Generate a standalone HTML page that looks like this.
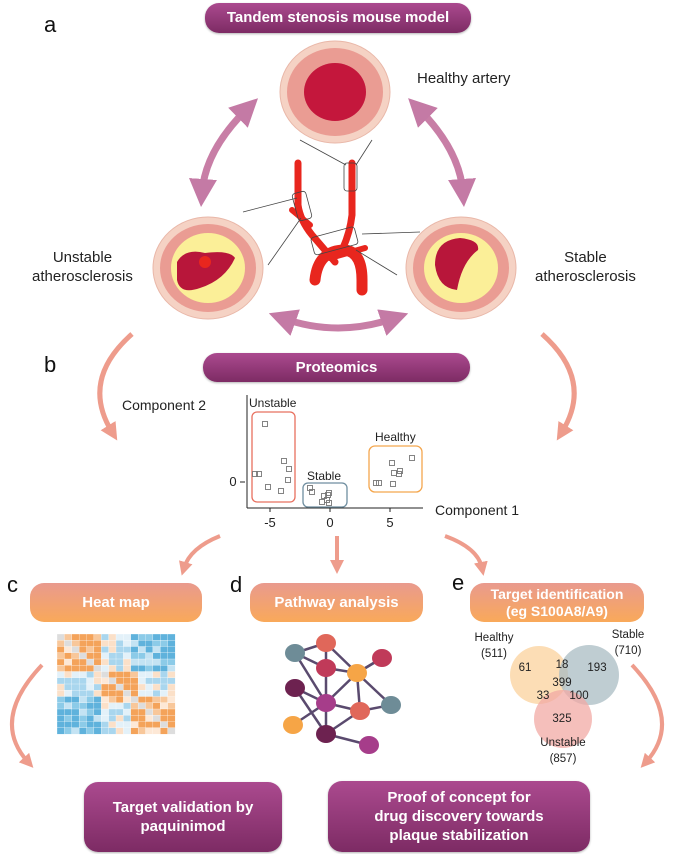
<!DOCTYPE html>
<html><head><meta charset="utf-8"><style>
html,body{margin:0;padding:0;background:#fff}
body{width:674px;height:854px;position:relative;overflow:hidden;font-family:"Liberation Sans","DejaVu Sans",sans-serif}
.pill{position:absolute;color:#fff;font-weight:bold;display:flex;align-items:center;justify-content:center;text-align:center;line-height:1.2}
.pu{background:linear-gradient(#ab4a8f,#7d2b64);border-radius:14px;box-shadow:0 1px 2px rgba(0,0,0,.3)}
.or{background:linear-gradient(#e99a8e,#f9a95a);border-radius:14px;font-size:15px}
.t{position:absolute;color:#222;white-space:nowrap}
.lbl{position:absolute;font-size:22px;color:#111}
</style></head><body>
<svg width="674" height="854" style="position:absolute;left:0;top:0">
<defs>
<marker id="ah" markerWidth="4" markerHeight="4" refX="2" refY="2" orient="auto"><path d="M0,0 L4,2 L0,4z" fill="#c47aa5"/></marker>
<marker id="as" markerWidth="4" markerHeight="4" refX="2" refY="2" orient="auto-start-reverse"><path d="M0,0 L4,2 L0,4z" fill="#c47aa5"/></marker>
<marker id="sa" markerWidth="3.5" markerHeight="3.5" refX="1.5" refY="1.75" orient="auto"><path d="M0,0 L3.5,1.75 L0,3.5z" fill="#ee9c8c"/></marker>
</defs>
<!-- double arrows -->
<path d="M248,108 Q205,150 202,193" stroke="#c87ea6" stroke-width="7" fill="none" marker-start="url(#as)" marker-end="url(#ah)"/>
<path d="M418,108 Q460,150 463,193" stroke="#c87ea6" stroke-width="7" fill="none" marker-start="url(#as)" marker-end="url(#ah)"/>
<path d="M282,318 Q338,338 395,318" stroke="#c87ea6" stroke-width="7" fill="none" marker-start="url(#as)" marker-end="url(#ah)"/>
<!-- salmon curved arrows -->
<path d="M132,334 Q80,380 112,432" stroke="#ee9c8c" stroke-width="5" fill="none" marker-end="url(#sa)"/>
<path d="M542,334 Q594,380 562,432" stroke="#ee9c8c" stroke-width="5" fill="none" marker-end="url(#sa)"/>
<path d="M220,536 Q190,548 184,568" stroke="#ee9c8c" stroke-width="4" fill="none" marker-end="url(#sa)"/>
<path d="M337,536 L337,566" stroke="#ee9c8c" stroke-width="4" fill="none" marker-end="url(#sa)"/>
<path d="M445,536 Q478,548 482,568" stroke="#ee9c8c" stroke-width="4" fill="none" marker-end="url(#sa)"/>
<path d="M42,665 Q-10,720 28,762" stroke="#ee9c8c" stroke-width="4" fill="none" marker-end="url(#sa)"/>
<path d="M632,665 Q684,720 646,762" stroke="#ee9c8c" stroke-width="4" fill="none" marker-end="url(#sa)"/>
<!-- aorta -->
<g stroke="#e8261e" fill="none" stroke-linecap="round">
<path d="M298,163 L298,205 Q300,220 312,235 Q325,250 335,262" stroke-width="7"/>
<path d="M352,163 L352,215 Q350,232 343,248" stroke-width="7"/>
<path d="M292,210 L310,225" stroke-width="6"/>
<path d="M330,258 L365,248" stroke-width="6"/>
<path d="M315,280 Q318,250 345,250 Q362,252 362,280 L362,290" stroke-width="11"/>
</g>
<g stroke="#444" stroke-width="0.8" fill="none">
<line x1="300" y1="140" x2="346" y2="165"/><line x1="372" y1="140" x2="356" y2="165"/>
<rect x="344" y="163" width="13" height="28" rx="3"/>
<rect x="295" y="192" width="14" height="28" rx="3" transform="rotate(-15 302 206)"/>
<line x1="243" y1="212" x2="297" y2="198"/><line x1="268" y1="265" x2="301" y2="218"/>
<rect x="312" y="232" width="45" height="18" rx="3" transform="rotate(-15 334 241)"/>
<line x1="362" y1="234" x2="420" y2="232"/><line x1="356" y1="250" x2="397" y2="275"/>
</g>
<!-- artery circles -->
<g>
<ellipse cx="335" cy="92" rx="55" ry="51" fill="#f5d2c4" stroke="#e9b7a8"/>
<ellipse cx="335" cy="92" rx="48" ry="44" fill="#ea9c93"/>
<ellipse cx="335" cy="92" rx="31" ry="29" fill="#c4173c"/>
<ellipse cx="208" cy="268" rx="55" ry="51" fill="#f5d2c4" stroke="#e9b7a8"/>
<ellipse cx="208" cy="268" rx="48" ry="44" fill="#ea9c93"/>
<ellipse cx="208" cy="268" rx="37" ry="35" fill="#fbef98"/>
<path d="M177,262 Q185,248 205,253 Q230,250 235,258 Q225,280 200,288 Q180,295 177,280z" fill="#b8163a"/>
<circle cx="205" cy="262" r="6" fill="#e8261e"/>
<ellipse cx="461" cy="268" rx="55" ry="51" fill="#f5d2c4" stroke="#e9b7a8"/>
<ellipse cx="461" cy="268" rx="48" ry="44" fill="#ea9c93"/>
<ellipse cx="461" cy="268" rx="37" ry="35" fill="#fbef98"/>
<path d="M435,265 Q435,240 460,238 Q480,240 478,250 Q462,262 457,290 Q438,288 435,265z" fill="#b8163a"/>
</g>
<!-- scatter -->
<g stroke="#222" stroke-width="1" fill="none">
<line x1="247" y1="395" x2="247" y2="508"/><line x1="247" y1="508" x2="423" y2="508"/>
<line x1="270" y1="508" x2="270" y2="512"/><line x1="330" y1="508" x2="330" y2="512"/><line x1="390" y1="508" x2="390" y2="512"/>
<line x1="240" y1="482" x2="245" y2="482"/>
</g>
<rect x="252" y="412" width="43" height="90" rx="5" fill="none" stroke="#e8705f" stroke-width="1.3"/>
<rect x="303" y="483" width="44" height="24" rx="5" fill="none" stroke="#6f8ea0" stroke-width="1.3"/>
<rect x="369" y="446" width="53" height="46" rx="6" fill="none" stroke="#f4a64d" stroke-width="1.3"/>
<g stroke="#777" fill="none" stroke-width="0.9" id="pts"></g>
<g font-size="13" fill="#222" text-anchor="middle">
<text x="270" y="527">-5</text><text x="330" y="527">0</text><text x="390" y="527">5</text>
<text x="233" y="486">0</text>
</g>
<!-- heatmap -->
<g id="hm"><rect x="57" y="634" width="118" height="100" fill="#bfe0f0"/></g>
<!-- network -->
<g stroke="#5a4a6e" stroke-width="2.5" id="edges"></g>
<g id="nodes"></g>
<!-- venn -->
<g style="mix-blend-mode:multiply">
<circle cx="539" cy="675" r="29" fill="#fbd7a8" opacity="0.85"/>
<circle cx="589" cy="675" r="30" fill="#a9bcc3" opacity="0.75"/>
<circle cx="563" cy="719" r="29" fill="#f2a9a4" opacity="0.75"/>
</g>
<g font-size="11.5" fill="#222" text-anchor="middle">
<text x="525" y="671">61</text><text x="562" y="668">18</text><text x="597" y="671">193</text>
<text x="562" y="686">399</text><text x="543" y="699">33</text><text x="579" y="699">100</text><text x="562" y="722">325</text>
<text x="494" y="641">Healthy</text><text x="494" y="657">(511)</text>
<text x="628" y="638">Stable</text><text x="628" y="654">(710)</text>
<text x="563" y="746">Unstable</text><text x="563" y="762">(857)</text>
</g>
</svg>
<div class="pill pu" style="left:205px;top:3px;width:266px;height:30px;font-size:15px">Tandem stenosis mouse model</div>
<div class="lbl" style="left:44px;top:12px">a</div>
<div class="t" style="left:417px;top:70px;font-size:15px">Healthy artery</div>
<div class="t" style="left:32px;top:248px;font-size:15px;text-align:center;line-height:19px">Unstable<br>atherosclerosis</div>
<div class="t" style="left:535px;top:248px;font-size:15px;text-align:center;line-height:19px">Stable<br>atherosclerosis</div>
<div class="pill pu" style="left:203px;top:353px;width:267px;height:29px;font-size:15px">Proteomics</div>
<div class="lbl" style="left:44px;top:352px">b</div>
<div class="t" style="left:122px;top:397px;font-size:14px">Component 2</div>
<div class="t" style="left:435px;top:502px;font-size:14px">Component 1</div>
<div class="t" style="left:249px;top:396px;font-size:12px">Unstable</div>
<div class="t" style="left:307px;top:469px;font-size:12px">Stable</div>
<div class="t" style="left:375px;top:430px;font-size:12px">Healthy</div>
<div class="lbl" style="left:7px;top:572px">c</div>
<div class="pill or" style="left:30px;top:583px;width:172px;height:39px">Heat map</div>
<div class="lbl" style="left:230px;top:572px">d</div>
<div class="pill or" style="left:250px;top:583px;width:173px;height:39px">Pathway analysis</div>
<div class="lbl" style="left:452px;top:570px">e</div>
<div class="pill or" style="left:470px;top:583px;width:174px;height:39px;font-size:14px;line-height:17px">Target identification<br>(eg S100A8/A9)</div>
<div class="pill pu" style="left:84px;top:782px;width:198px;height:70px;font-size:15px;line-height:19px">Target validation by<br>paquinimod</div>
<div class="pill pu" style="left:328px;top:781px;width:262px;height:71px;font-size:15px;line-height:19px">Proof of concept for<br>drug discovery towards<br>plaque stabilization</div>
<script>
var NS="http://www.w3.org/2000/svg";
function el(p,t,a){var e=document.createElementNS(NS,t);for(var k in a)e.setAttribute(k,a[k]);p.appendChild(e);return e;}
var pts=[[265,424],[284,461],[289,469],[255,474],[259,474],[288,480],[268,487],[281,491],[310,488],[312,492],[324,496],[329,493],[328,495],[327,500],[322,502],[329,503],[412,458],[392,463],[394,473],[400,471],[399,474],[376,483],[379,483],[393,484]];
var g=document.getElementById('pts');pts.forEach(function(p){el(g,'rect',{x:p[0]-2.5,y:p[1]-2.5,width:5,height:5});});
var hm=document.getElementById('hm'),n=16,cw=118/n,ch=100/n;var s=7;
function rnd(){s=(s*9301+49297)%233280;return s/233280;}
for(var i=0;i<n;i++)for(var j=0;j<n;j++){
 var a=(i<6&&j<6)||(i>9&&j>9)||(i>5&&i<11&&j>5&&j<11);var b=(i<6&&j>9)||(i>9&&j<6);
 var r=rnd(),c;
 if(i==j)c='#ddd';else if(a)c=r<.5?'#f4a35a':(r<.8?'#f8c79a':'#fde8d6');else if(b)c=r<.5?'#5fb2dc':(r<.85?'#8ccbe8':'#c4e3f3');else c=r<.4?'#a9d6ee':(r<.7?'#e3f1f9':'#fbe0c8');
 el(hm,'rect',{x:57+j*cw,y:634+i*ch,width:cw+.2,height:ch+.2,fill:c,stroke:'#fff','stroke-width':.3});}
var N=[[295,653,'#6e8c97'],[326,643,'#e0675a'],[382,658,'#c03a59'],[326,668,'#c03a59'],[357,673,'#f6a546'],[295,688,'#6d2250'],[326,703,'#a63d8a'],[360,711,'#e0675a'],[391,705,'#6e8c97'],[293,725,'#f6a546'],[326,734,'#6d2250'],[369,745,'#a63d8a']];
var E=[[0,1],[0,3],[0,6],[1,3],[1,4],[3,4],[3,6],[4,2],[4,6],[4,7],[4,8],[5,6],[5,10],[6,7],[6,9],[6,10],[7,8],[7,10],[10,11],[2,4]];
var eg=document.getElementById('edges'),ng=document.getElementById('nodes');
E.forEach(function(e){el(eg,'line',{x1:N[e[0]][0],y1:N[e[0]][1],x2:N[e[1]][0],y2:N[e[1]][1]});});
N.forEach(function(p){el(ng,'ellipse',{cx:p[0],cy:p[1],rx:10,ry:9,fill:p[2]});});
</script>
</body></html>
